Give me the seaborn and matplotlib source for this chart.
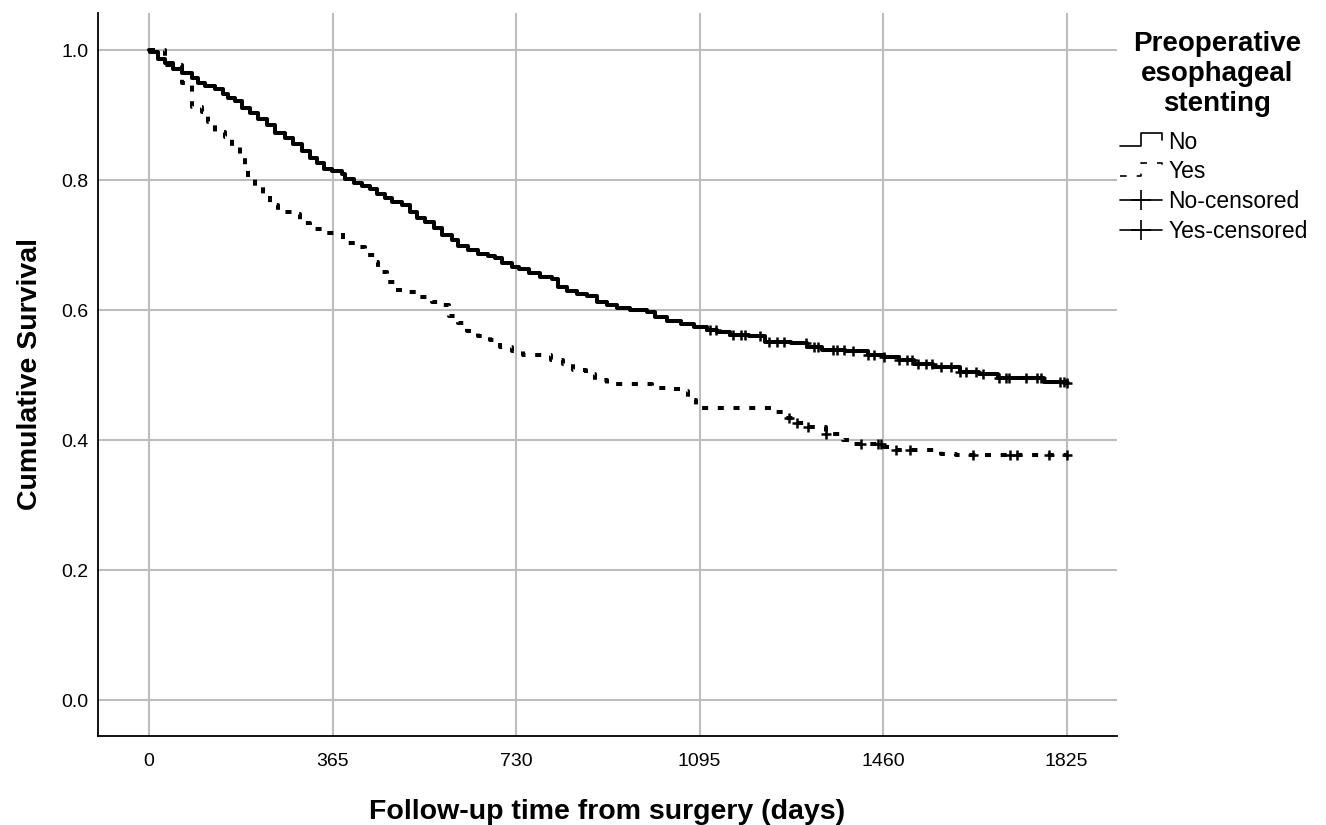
import numpy as np
import pandas as pd
import matplotlib
matplotlib.use("Agg")
import matplotlib.pyplot as plt
import seaborn as sns
from matplotlib.lines import Line2D
from matplotlib.legend_handler import HandlerBase

# ---------------- data ----------------
no_time = [0, 2, 18, 32, 48, 65, 85, 98, 111, 131, 148, 158, 171, 184, 201, 217, 234, 251, 271,
           287, 304, 320, 334, 347, 364, 383, 390, 407, 423, 440, 453, 470, 483, 503, 519, 533,
           549, 566, 582, 602, 615, 635, 655, 675, 689, 702, 722, 735, 755, 778, 801, 814, 831,
           851, 871, 891, 911, 931, 957, 990, 1007, 1030, 1057, 1083, 1110, 1130, 1155, 1193,
           1224, 1277, 1308, 1338, 1384, 1429, 1461, 1491, 1521, 1559, 1612, 1650, 1688, 1779,
           1825]
no_surv = [1.0, 0.997, 0.987, 0.980, 0.971, 0.964, 0.957, 0.949, 0.944, 0.940, 0.933, 0.926,
           0.921, 0.911, 0.903, 0.894, 0.885, 0.873, 0.864, 0.855, 0.844, 0.834, 0.826, 0.817,
           0.814, 0.810, 0.802, 0.795, 0.791, 0.786, 0.778, 0.772, 0.766, 0.762, 0.751, 0.742,
           0.736, 0.726, 0.715, 0.708, 0.699, 0.692, 0.687, 0.684, 0.680, 0.672, 0.667, 0.664,
           0.657, 0.651, 0.648, 0.635, 0.630, 0.625, 0.621, 0.613, 0.608, 0.603, 0.600, 0.597,
           0.589, 0.584, 0.579, 0.574, 0.569, 0.567, 0.562, 0.560, 0.551, 0.549, 0.543, 0.538,
           0.537, 0.531, 0.528, 0.523, 0.517, 0.512, 0.505, 0.502, 0.495, 0.489, 0.488]

yes_time = [0, 32, 66, 86, 105, 117, 131, 151, 165, 181, 191, 197, 211, 227, 241, 257, 287, 300,
            320, 344, 386, 416, 430, 450, 456, 473, 490, 515, 539, 563, 585, 597, 615, 633, 655,
            679, 697, 722, 744, 800, 824, 844, 868, 886, 911, 1001, 1031, 1057, 1071, 1087, 1240,
            1262, 1289, 1311, 1347, 1381, 1401, 1461, 1485, 1574, 1604, 1825]
yes_surv = [1.0, 0.977, 0.949, 0.912, 0.905, 0.889, 0.874, 0.866, 0.851, 0.838, 0.823, 0.805,
            0.789, 0.777, 0.762, 0.751, 0.748, 0.734, 0.725, 0.718, 0.703, 0.697, 0.685, 0.674,
            0.658, 0.643, 0.631, 0.628, 0.620, 0.612, 0.608, 0.591, 0.580, 0.568, 0.560, 0.554,
            0.543, 0.537, 0.531, 0.523, 0.517, 0.508, 0.502, 0.492, 0.486, 0.480, 0.478, 0.476,
            0.462, 0.449, 0.443, 0.434, 0.426, 0.420, 0.410, 0.401, 0.394, 0.389, 0.385, 0.378,
            0.377, 0.377]

no_censor = [1116, 1128, 1162, 1178, 1186, 1216, 1232, 1248, 1262, 1307, 1323, 1331, 1361, 1369,
             1383, 1399, 1429, 1441, 1461, 1491, 1507, 1517, 1529, 1545, 1558, 1574, 1594, 1612,
             1624, 1644, 1658, 1690, 1704, 1711, 1745, 1765, 1773, 1811, 1819, 1825]
yes_censor = [1272, 1289, 1311, 1347, 1415, 1449, 1455, 1485, 1514, 1638, 1713, 1727, 1789, 1825]

x_ticks = [0, 365, 730, 1095, 1460, 1825]
y_ticks = [0.0, 0.2, 0.4, 0.6, 0.8, 1.0]
groups = ["No", "Yes"]
legend_labels = ["No", "Yes", "No-censored", "Yes-censored"]
legend_title = "Preoperative\nesophageal\nstenting"
x_label = "Follow-up time from surgery (days)"
y_label = "Cumulative Survival"


def step_value(times, surv, t):
    idx = np.searchsorted(np.asarray(times), np.asarray(t), side="right") - 1
    return np.asarray(surv)[idx]


curve_df = pd.concat([
    pd.DataFrame({"time": no_time, "surv": no_surv, "group": "No"}),
    pd.DataFrame({"time": yes_time, "surv": yes_surv, "group": "Yes"}),
], ignore_index=True)
cens_df = pd.concat([
    pd.DataFrame({"time": no_censor, "surv": step_value(no_time, no_surv, no_censor), "group": "No"}),
    pd.DataFrame({"time": yes_censor, "surv": step_value(yes_time, yes_surv, yes_censor), "group": "Yes"}),
], ignore_index=True)

# ---------------- style ----------------
sns.set_style("white")
plt.rcParams["font.family"] = ["Liberation Sans", "DejaVu Sans"]
plt.rcParams["text.color"] = "black"
plt.rcParams["axes.labelcolor"] = "black"

W, H = 1326, 825
fig = plt.figure(figsize=(W / 100, H / 100), dpi=100)
ax = fig.add_axes([98 / W, 1 - 736 / H, (1117 - 98) / W, (736 - 13) / H])

LW = 2.9
sns.lineplot(data=curve_df[curve_df.group == "No"], x="time", y="surv", ax=ax, color="black",
             lw=LW, drawstyle="steps-post", estimator=None, sort=False, legend=False)
sns.lineplot(data=curve_df[curve_df.group == "Yes"], x="time", y="surv", ax=ax, color="black",
             lw=LW, drawstyle="steps-post", estimator=None, sort=False, legend=False)
ax.lines[-1].set_dashes((1.5, 2.4))

sns.scatterplot(data=cens_df, x="time", y="surv", ax=ax, marker="+", color="black",
                s=60, linewidth=1.8, legend=False, zorder=5)

ax.set_xlim(-101.5, 1925)
ax.set_ylim(-0.055, 1.057)
ax.set_xticks(x_ticks)
ax.set_xticklabels([str(v) for v in x_ticks])
ax.set_yticks(y_ticks)
ax.set_yticklabels([f"{v:.1f}" for v in y_ticks])
ax.tick_params(axis="both", length=0, labelsize=14, colors="black")
ax.tick_params(axis="x", pad=12)
ax.tick_params(axis="y", pad=7)
ax.grid(True, color="#BDBDBD", lw=1.5)
ax.set_axisbelow(True)
for s in ["top", "right"]:
    ax.spines[s].set_visible(False)
for s in ["left", "bottom"]:
    ax.spines[s].set_color("black")
    ax.spines[s].set_linewidth(1.3)

ax.set_xlabel(x_label, fontsize=20.5, fontweight="bold", labelpad=21, color="black")
ax.set_ylabel(y_label, fontsize=20.5, fontweight="bold", labelpad=13, color="black")


# ---------------- legend ----------------
class StepHandler(HandlerBase):
    def __init__(self, dashed=False):
        super().__init__()
        self.dashed = dashed

    def create_artists(self, legend, orig_handle, xdescent, ydescent, width, height, fontsize, trans):
        x0 = -xdescent
        lo = -ydescent + height * 0.15
        hi = -ydescent + height * 0.95
        xs = [x0, x0 + width * 0.5, x0 + width * 0.5, x0 + width, x0 + width]
        ys = [lo, lo, hi, hi, hi - height * 0.4]
        ln = Line2D(xs, ys, color="black", lw=1.2)
        if self.dashed:
            ln.set_dashes((4, 6))
        ln.set_transform(trans)
        return [ln]


fig.text(1217 / W, 1 - 74 / H, legend_title, ha="center", va="center", ma="center",
         fontsize=20, fontweight="bold", color="black", linespacing=1.2)

h_no = Line2D([], [], color="black")
h_yes = Line2D([], [], color="black", ls="--")
h_nc = Line2D([], [], color="black", lw=1.2, marker="+", markersize=14, markeredgewidth=1.2)
h_yc = Line2D([], [], color="black", lw=1.2, marker="+", markersize=14, markeredgewidth=1.2)

leg = fig.legend([h_no, h_yes, h_nc, h_yc], legend_labels,
                 handler_map={h_no: StepHandler(False), h_yes: StepHandler(True)},
                 loc="upper left", bbox_to_anchor=(1115 / W, 1 - 126 / H),
                 borderaxespad=0.0, frameon=False, fontsize=16.5,
                 handlelength=1.85, handletextpad=0.28, labelspacing=0.3,
                 borderpad=0.2, numpoints=1)
for t in leg.get_texts():
    t.set_color("black")

fig.savefig("out.png", dpi=100)
